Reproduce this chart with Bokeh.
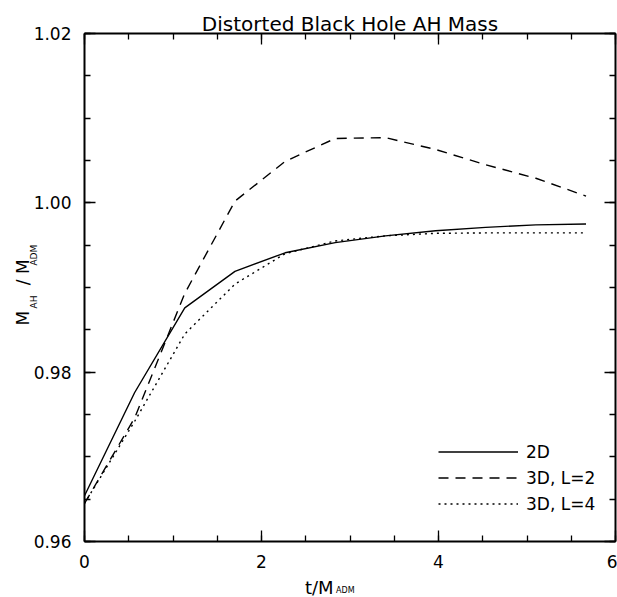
import numpy as np
from bokeh.plotting import figure
from bokeh.models import (LinearAxis, Range1d, Label, Legend, LegendItem,
                          SingleIntervalTicker, NumeralTickFormatter, CustomJSTickFormatter)
from bokeh.embed import file_html
from bokeh.resources import INLINE

# ---- data ----
t_vals = [0.0, 0.567, 1.133, 1.700, 2.267, 2.833, 3.400, 3.967, 4.533, 5.100, 5.667]
mass_2d = [0.9654, 0.9776, 0.9876, 0.9919, 0.9941, 0.9953, 0.9961, 0.9967, 0.9971, 0.9974, 0.9975]
mass_3d_l2 = [0.9645, 0.9746, 0.9893, 1.0002, 1.0049, 1.0076, 1.0077, 1.0063, 1.0045, 1.0029, 1.0008]
mass_3d_l4 = [0.9645, 0.9742, 0.9845, 0.9904, 0.9940, 0.9955, 0.9961, 0.9964, 0.99645, 0.99645, 0.99645]
series_names = ["2D", "3D, L=2", "3D, L=4"]
title_text = "Distorted Black Hole AH Mass"
x_title = ("t/M", "ADM")
y_title = ("M", "AH", "/", "M", "ADM")
x_range = (0, 6)
y_range = (0.96, 1.02)

FONT = "DejaVu Sans"
EN, EM, THREE = "\u2002", "\u2003", "\u2004"

p = figure(width=617, height=597, output_backend="svg", toolbar_location=None,
           x_range=Range1d(*x_range), y_range=Range1d(*y_range),
           min_border_left=83, min_border_right=2, min_border_top=32, min_border_bottom=56)
p.outline_line_color = None
p.grid.visible = False
p.background_fill_color = "white"
p.border_fill_color = "white"

def style_axis(ax, show_labels, fmt=None):
    ax.axis_line_color = "black"
    ax.axis_line_width = 2
    ax.major_tick_in = 11
    ax.major_tick_out = 0
    ax.minor_tick_in = 6
    ax.minor_tick_out = 0
    ax.major_tick_line_color = "black"
    ax.minor_tick_line_color = "black"
    ax.major_tick_line_width = 1.3
    ax.minor_tick_line_width = 1.3
    if show_labels:
        ax.major_label_text_font = FONT
        ax.major_label_text_font_size = "17px"
        ax.major_label_text_color = "black"
        ax.major_label_standoff = 13
        if fmt is not None:
            ax.formatter = fmt
    else:
        ax.formatter = CustomJSTickFormatter(code="return ''")
        ax.major_label_text_font_size = "0px"
        ax.major_label_standoff = 0

p.xaxis.ticker = SingleIntervalTicker(interval=2, num_minor_ticks=4)
p.yaxis.ticker = SingleIntervalTicker(interval=0.02, num_minor_ticks=4)
style_axis(p.xaxis[0], True)
style_axis(p.yaxis[0], True, NumeralTickFormatter(format="0.00"))

top_ax = LinearAxis(ticker=SingleIntervalTicker(interval=2, num_minor_ticks=4))
right_ax = LinearAxis(ticker=SingleIntervalTicker(interval=0.02, num_minor_ticks=4))
style_axis(top_ax, False)
style_axis(right_ax, False)
p.add_layout(top_ax, "above")
p.add_layout(right_ax, "right")

r1 = p.line(t_vals, mass_2d, line_color="black", line_width=1.4)
r2 = p.line(t_vals, mass_3d_l2, line_color="black", line_width=1.4, line_dash="10 7")
r3 = p.line(t_vals, mass_3d_l4, line_color="black", line_width=1.4, line_dash="2 4")

legend = Legend(items=[LegendItem(label=series_names[0], renderers=[r1]),
                       LegendItem(label=series_names[1], renderers=[r2]),
                       LegendItem(label=series_names[2], renderers=[r3])],
                location=(354, 26), border_line_color=None, background_fill_alpha=0,
                padding=0, spacing=3, margin=0, glyph_width=80, glyph_height=23,
                label_height=23, label_standoff=8,
                label_text_font=FONT, label_text_font_size="17px", label_text_color="black")
p.add_layout(legend, "center")

xmid = (x_range[0] + x_range[1]) / 2

def lab(text, x, y, xo, yo, size, angle=0.0, align="left"):
    return Label(x=x, y=y, x_offset=xo, y_offset=yo, text=text, text_font=FONT,
                 text_font_size=size, angle=angle, text_align=align,
                 text_baseline="alphabetic", text_color="black")

# title (above panel)
p.add_layout(lab(title_text, xmid, y_range[1], 0, 10, "20px", align="center"), "above")
# x-axis title: main part in the below panel, subscript hosted by the above panel
p.add_layout(lab(x_title[0], xmid, y_range[0], -45, -46, "18px"), "below")
p.add_layout(lab(x_title[1], xmid, y_range[0], -14, -49, "8px"), "above")

# y-axis title (rotated): main text and subscripts as two labels
ang = np.pi / 2
y_main = y_title[0] + EM + EN + y_title[2] + THREE + y_title[3]
y_sub = y_title[1] + EM + EM + EM + THREE + y_title[4]
p.add_layout(lab(y_main, x_range[0], y_range[0], -62, 216, "17px", angle=ang), "left")
p.add_layout(lab(y_sub, x_range[0], y_range[0], -51, 233, "9px", angle=ang), "left")

open("out.html", "w").write(file_html(p, INLINE))
